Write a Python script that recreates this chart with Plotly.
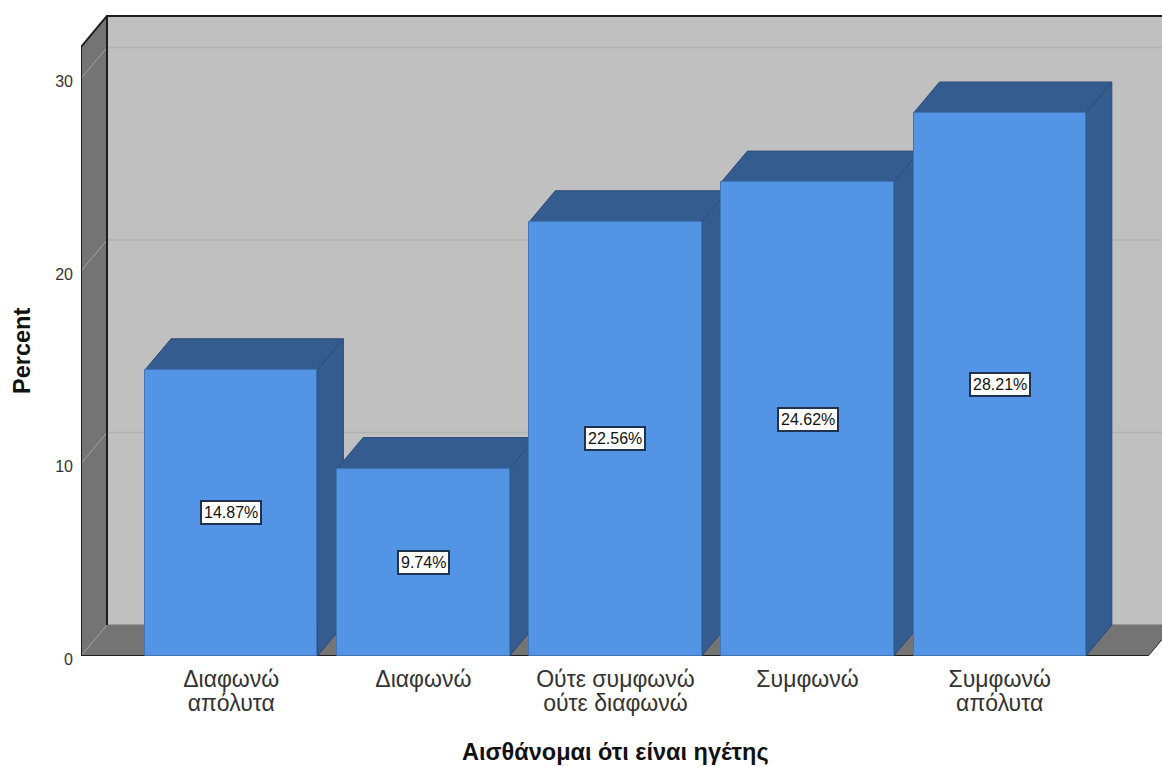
import plotly.graph_objects as go

# Survey responses, share of respondents per answer (labels wrap onto two rows)
category_first_line = ["Διαφωνώ", "Διαφωνώ", "Ούτε συμφωνώ", "Συμφωνώ", "Συμφωνώ"]
category_second_line = ["απόλυτα", "", "ούτε διαφωνώ", "", "απόλυτα"]
percents = [14.87, 9.74, 22.56, 24.62, 28.21]
y_ticks = [0, 10, 20, 30]

# Pseudo-3D frame, in axis units
X_MIN, X_MAX = -0.782, 4.845
Y_MAX = 34.08
DX, DY = 0.1353, 1.61       # depth offset of the back plane
BAR_W = 0.897
FRAME_R, FRAME_T = 4.773, 31.64

WALL = "#C0C0C0"
SIDE_WALL = "#747474"
GRID = "#B2B2B2"
GRID_SIDE = "#A3A3A3"
BAR_FRONT = "#5394E4"
BAR_DARK = "#345C8E"
BAR_EDGE = "#2C4D78"
TEXT_FONT = "Liberation Sans"

fig = go.Figure()


def face(xs, ys, fill, line=None, width=1):
    fig.add_trace(go.Scatter(
        x=xs + xs[:1], y=ys + ys[:1], mode="lines", fill="toself", fillcolor=fill,
        line=dict(color=line or fill, width=width), hoverinfo="skip", showlegend=False))


def stroke(xs, ys, color, width, clip=True):
    fig.add_trace(go.Scatter(
        x=xs, y=ys, mode="lines", line=dict(color=color, width=width),
        cliponaxis=clip, hoverinfo="skip", showlegend=False))


# Back wall, left wall and floor
face([X_MIN + DX, FRAME_R + DX, FRAME_R + DX, X_MIN + DX], [DY, DY, FRAME_T + DY, FRAME_T + DY], WALL)
face([X_MIN, X_MIN + DX, X_MIN + DX, X_MIN], [0, DY, FRAME_T + DY, FRAME_T], SIDE_WALL)
face([X_MIN, X_MIN + DX, FRAME_R + DX, FRAME_R], [0, DY, DY, 0], SIDE_WALL)

# Gridlines across the back wall, turning down the left wall
for t in y_ticks[1:]:
    stroke([X_MIN + DX, FRAME_R + DX], [t + DY, t + DY], GRID, 1.5)
for t in y_ticks:
    stroke([X_MIN, X_MIN + DX], [t, t + DY], GRID_SIDE, 1)

# Frame outline
stroke([X_MIN + DX, X_MIN + DX, FRAME_R + DX], [DY, FRAME_T + DY, FRAME_T + DY], "#1E1E1E", 2)
stroke([X_MIN, X_MIN, FRAME_R], [FRAME_T, 0, 0], "#1E1E1E", 2, clip=False)
stroke([X_MIN, X_MIN + DX], [FRAME_T, FRAME_T + DY], "#1E1E1E", 2)
stroke([FRAME_R, FRAME_R + DX], [0, DY], "#3A3A3A", 1)

# Top and side of every bar; the front faces sit on the overlay axes above these
for i, v in enumerate(percents):
    left, right = i - BAR_W / 2, i + BAR_W / 2
    face([right, right + DX, right + DX, right], [0, DY, v + DY, v], BAR_DARK, BAR_EDGE)
    face([left, left + DX, right + DX, right], [v, v + DY, v + DY, v], BAR_DARK, BAR_EDGE)

fig.add_trace(go.Bar(
    x=list(range(len(percents))), y=percents, width=BAR_W, xaxis="x2", yaxis="y2",
    marker=dict(color=BAR_FRONT, line=dict(color="#3F74B5", width=1)),
    hoverinfo="skip", showlegend=False))

# Boxed value labels at mid-height of each bar
for i, v in enumerate(percents):
    fig.add_annotation(
        x=i, y=v / 2, xref="x2", yref="y2", text=f"{v:.2f}%", showarrow=False,
        font=dict(family=TEXT_FONT, size=16, color="#111111"),
        bgcolor="white", bordercolor="#1F3350", borderwidth=2, borderpad=2)

# Axis titles
title_font = dict(family=TEXT_FONT, size=23.5, color="#111111")
fig.add_annotation(xref="paper", yref="paper", x=(615 - 81) / 1081, y=0, yshift=-96, yanchor="middle",
                   text="<b>Αισθάνομαι ότι είναι ηγέτης</b>", showarrow=False, font=title_font)
fig.add_annotation(xref="paper", yref="paper", x=0, xshift=-59, y=(656 - 351) / 656, yanchor="middle",
                   xanchor="center", text="<b>Percent</b>", textangle=-90, showarrow=False, font=title_font)

tick_font = dict(family=TEXT_FONT, size=23, color="#333333")
positions = list(range(len(percents)))
fig.update_layout(
    width=1162, height=767, margin=dict(l=81, r=0, t=0, b=111, pad=0),
    paper_bgcolor="white", plot_bgcolor="white", showlegend=False, bargap=0,
    xaxis=dict(
        range=[X_MIN, X_MAX], tickmode="array", tickvals=positions,
        ticktext=category_first_line, tickfont=tick_font, ticks="", showgrid=False,
        zeroline=False, showline=False, ticklabelstandoff=7),
    yaxis=dict(
        range=[0, Y_MAX], tickmode="array", tickvals=y_ticks,
        tickfont=dict(family=TEXT_FONT, size=16, color="#333333"),
        ticks="", showgrid=False, zeroline=False, showline=False,
        ticklabelstandoff=7, ticklabelshift=3),
    xaxis2=dict(
        range=[X_MIN, X_MAX], overlaying="x", side="bottom", anchor="y2", tickmode="array",
        tickvals=positions, ticktext=category_second_line, tickfont=tick_font, ticks="",
        showgrid=False, zeroline=False, showline=False, ticklabelstandoff=31),
    yaxis2=dict(range=[0, Y_MAX], overlaying="y", visible=False),
)

fig.write_html("out.html", config=dict(displayModeBar=False))
